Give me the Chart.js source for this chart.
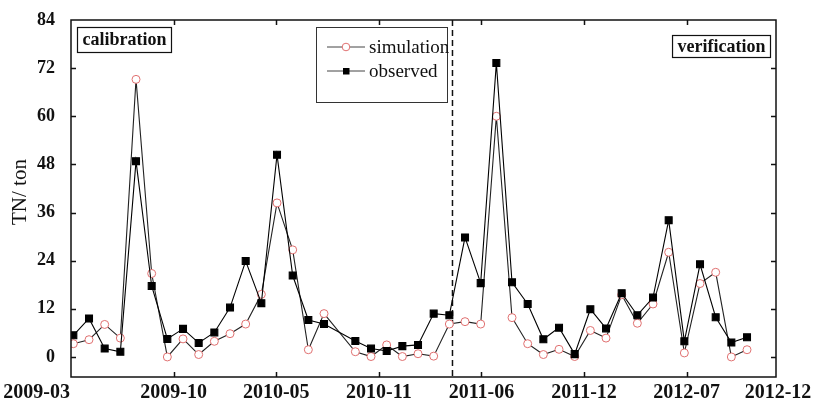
<!DOCTYPE html>
<html>
<head>
<meta charset="utf-8">
<script src="https://cdn.jsdelivr.net/npm/chart.js@4.4.0/dist/chart.umd.min.js"></script>
<style>
  body { margin: 0; background: #fff; }
  canvas { display: block; }
</style>
</head>
<body>
<canvas id="tn-chart" width="816" height="406"></canvas>
<script>
// one point per month, 2009-03 .. 2012-10
const months = [
  '2009-03', '2009-04', '2009-05', '2009-06', '2009-07', '2009-08', '2009-09', '2009-10', '2009-11', '2009-12',
  '2010-01', '2010-02', '2010-03', '2010-04', '2010-05', '2010-06', '2010-07', '2010-08', '2010-09', '2010-10', '2010-11', '2010-12',
  '2011-01', '2011-02', '2011-03', '2011-04', '2011-05', '2011-06', '2011-07', '2011-08', '2011-09', '2011-10', '2011-11', '2011-12',
  '2012-01', '2012-02', '2012-03', '2012-04', '2012-05', '2012-06', '2012-07', '2012-08', '2012-09', '2012-10'
];

// TN load (ton); null = no point plotted
const simulation = [
  3.3, 4.3, 8.1, 4.7, 69.2, 20.8, 0, 4.5, 0.6, 3.9,
  5.8, 8.2, 15.6, 38.4, 26.7, 1.8, 10.8, null, 1.3, 0.1,
  3.0, 0.1, 0.8, 0.2, 8.2, 8.8, 8.2, 60.0, 9.8, 3.3,
  0.6, 1.9, 0.1, 6.6, 4.7, 15.5, 8.4, 13.2, 26.1, 1.0,
  18.3, 21.1, 0, 1.8
];
const observed = [
  5.4, 9.6, 2.1, 1.3, 48.8, 17.7, 4.5, 7.0, 3.5, 6.1,
  12.3, 23.9, 13.4, 50.4, 20.3, 9.2, 8.2, null, 4.0, 2.1,
  1.5, 2.7, 3.0, 10.8, 10.4, 29.8, 18.4, 73.3, 18.6, 13.2,
  4.4, 7.3, 0.7, 11.9, 7.1, 15.9, 10.4, 14.8, 34.1, 3.9,
  23.1, 9.9, 3.6, 4.9
];

// axis labels
const xTickLabels = ['2009-03', '2009-10', '2010-05', '2010-11', '2011-06', '2011-12', '2012-07', '2012-12'];
const yTicks = [0, 12, 24, 36, 48, 60, 72, 84];

// calibration / verification split (in month index units)
const splitAt = 24.2;

const serif = '"Liberation Serif", "Times New Roman", serif';
const xMin = -0.15, xMax = 44.85, xStep = 6.55;
const simColor = '#e07070';

const toPoints = arr => arr.map((v, i) => ({ x: i, y: v }));

// frame, inward ticks, x labels, title, boxes and legend
const decorations = {
  id: 'decorations',
  beforeDatasetsDraw(chart) {
    const { ctx, chartArea: a, scales: { x } } = chart;
    const px = x.getPixelForValue(splitAt);
    ctx.save();
    ctx.strokeStyle = '#111';
    ctx.lineWidth = 1.5;
    ctx.setLineDash([6, 4]);
    ctx.beginPath();
    ctx.moveTo(px, a.top);
    ctx.lineTo(px, a.bottom);
    ctx.stroke();
    ctx.restore();
  },
  afterDraw(chart) {
    const { ctx, chartArea: a, scales: { x, y } } = chart;
    ctx.save();
    ctx.strokeStyle = '#111';
    ctx.lineWidth = 1.5;
    ctx.strokeRect(a.left, a.top, a.right - a.left, a.bottom - a.top);

    // tick marks pointing inward
    ctx.beginPath();
    yTicks.slice(0, -1).forEach(v => {
      const py = Math.round(y.getPixelForValue(v)) + 0.5;
      ctx.moveTo(a.left, py); ctx.lineTo(a.left + 5, py);
      ctx.moveTo(a.right, py); ctx.lineTo(a.right - 5, py);
    });
    for (let k = 1; k < xTickLabels.length - 1; k++) {
      const px = Math.round(x.getPixelForValue(xMin + k * xStep)) + 0.5;
      ctx.moveTo(px, a.bottom); ctx.lineTo(px, a.bottom - 5);
      ctx.moveTo(px, a.top); ctx.lineTo(px, a.top + 5);
    }
    ctx.stroke();

    // x tick labels
    ctx.fillStyle = '#111';
    ctx.font = 'bold 20px ' + serif;
    ctx.textBaseline = 'middle';
    xTickLabels.forEach((lab, k) => {
      let px, align = 'center';
      if (k === 0) { px = a.left - 1; align = 'right'; }
      else if (k === xTickLabels.length - 1) px = a.right + 2;
      else px = x.getPixelForValue(xMin + k * xStep);
      ctx.textAlign = align;
      ctx.fillText(lab, px, a.bottom + 16);
    });

    // y title
    ctx.save();
    ctx.translate(20, 192);
    ctx.rotate(-Math.PI / 2);
    ctx.font = '21px ' + serif;
    ctx.textAlign = 'center';
    ctx.fillText('TN/ ton', 0, 0);
    ctx.restore();

    // labelled boxes
    ctx.lineWidth = 1.2;
    ctx.font = 'bold 18px ' + serif;
    ctx.textAlign = 'center';
    const box = (text, left, top, h) => {
      const w = ctx.measureText(text).width + 10;
      ctx.strokeRect(left + 0.5, top + 0.5, w, h);
      ctx.fillText(text, left + 0.5 + w / 2, top + h / 2 + 1);
    };
    box('calibration', 77, 27, 25);
    const vw = ctx.measureText('verification').width + 10;
    box('verification', a.right - 6 - vw, 35, 22);

    // legend
    ctx.lineWidth = 1;
    ctx.strokeStyle = '#333';
    ctx.strokeRect(316.5, 27.5, 131, 75);
    ctx.font = '19px ' + serif;
    ctx.textAlign = 'left';
    [['simulation', 47], ['observed', 71]].forEach(([lab, ly], i) => {
      ctx.strokeStyle = '#444';
      ctx.beginPath();
      ctx.moveTo(327, ly); ctx.lineTo(365, ly);
      ctx.stroke();
      if (i === 0) {
        ctx.fillStyle = '#fff';
        ctx.strokeStyle = simColor;
        ctx.beginPath();
        ctx.arc(346, ly, 3.8, 0, Math.PI * 2);
        ctx.fill(); ctx.stroke();
      } else {
        ctx.fillStyle = '#000';
        ctx.fillRect(343, ly - 3, 6.5, 6.5);
      }
      ctx.fillStyle = '#111';
      ctx.fillText(lab, 369, ly + 1);
    });
    ctx.restore();
  }
};

const tnChart = new Chart(document.getElementById('tn-chart'), {
  type: 'line',
  data: {
    datasets: [{
      label: 'simulation',
      data: toPoints(simulation),
      borderColor: '#222',
      borderWidth: 1.1,
      pointStyle: 'circle',
      pointRadius: 4,
      pointBorderColor: simColor,
      pointBackgroundColor: '#fff',
      pointBorderWidth: 1,
      spanGaps: true,
      order: 2
    }, {
      label: 'observed',
      data: toPoints(observed),
      borderColor: '#000',
      borderWidth: 1.1,
      pointStyle: 'rect',
      pointRadius: 4.9,
      pointBorderColor: '#000',
      pointBackgroundColor: '#000',
      spanGaps: true,
      order: 1
    }]
  },
  options: {
    responsive: false,
    animation: false,
    layout: { padding: { top: 20, right: 40, left: 0, bottom: 0 } },
    plugins: { legend: { display: false }, tooltip: { enabled: false } },
    scales: {
      x: {
        type: 'linear',
        min: xMin,
        max: xMax,
        grid: { display: false },
        border: { display: false },
        ticks: { display: false },
        afterFit(scale) { scale.height = 29; }
      },
      y: {
        min: -5,
        max: 84,
        grid: { display: false },
        border: { display: false },
        afterBuildTicks(scale) { scale.ticks = yTicks.map(v => ({ value: v })); },
        ticks: {
          padding: 8,
          color: '#111',
          font: { family: serif, size: 18, weight: 'bold' }
        },
        afterFit(scale) { scale.width = 71; }
      }
    }
  },
  plugins: [decorations]
});
</script>
</body>
</html>
